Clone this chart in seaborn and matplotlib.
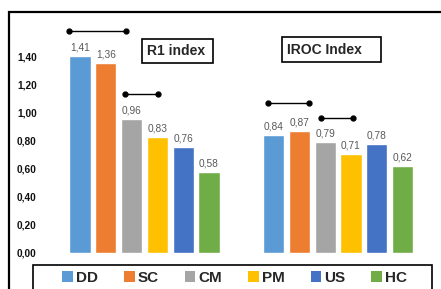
import matplotlib
matplotlib.use("Agg")
import matplotlib.pyplot as plt
import seaborn as sns
import pandas as pd
from matplotlib.patches import Rectangle, Patch

sns.set_style("white")
plt.rcParams['font.family'] = ['Liberation Sans', 'DejaVu Sans']

indices = ["R1 index", "IROC Index"]
groups = ["DD", "SC", "CM", "PM", "US", "HC"]
r1_values = [1.41, 1.36, 0.96, 0.83, 0.76, 0.58]
iroc_values = [0.84, 0.87, 0.79, 0.71, 0.78, 0.62]
colors = ["#5B9BD5", "#ED7D31", "#A5A5A5", "#FFC000", "#4472C4", "#70AD47"]
yticks = [0.0, 0.2, 0.4, 0.6, 0.8, 1.0, 1.2, 1.4]

# significance brackets: (x0, x1, y) in data units
brackets = [(-0.39, -0.096, 1.586), (-0.10, 0.07, 1.136),
            (0.638, 0.85, 1.071), (0.912, 1.078, 0.964)]

rows = []
for g, v in zip(groups, r1_values):
    rows.append({"index": indices[0], "group": g, "value": v})
for g, v in zip(groups, iroc_values):
    rows.append({"index": indices[1], "group": g, "value": v})
df = pd.DataFrame(rows)

W, H = 441, 289
fig = plt.figure(figsize=(W / 100, H / 100), dpi=100)
ax = fig.add_axes([0.1083, 0.1246, 0.8776, 0.8235])

sns.barplot(data=df, x="index", y="value", hue="group", hue_order=groups,
            palette=colors, width=0.8, gap=0.18, ax=ax, legend=False,
            errorbar=None, saturation=1)

for cont in ax.containers:
    labels = [f"{b.get_height():.2f}".replace(".", ",") for b in cont]
    ax.bar_label(cont, labels=labels, padding=2.5, fontsize=7.3, color="#595959")

for x0, x1, y in brackets:
    ax.plot([x0, x1], [y, y], color="black", lw=1.0, marker="o", markersize=3.5)

ax.set_xlim(-0.5, 1.5)
ax.set_ylim(0, 1.7)
ax.set_yticks(yticks)
ax.set_yticklabels([f"{t:.2f}".replace(".", ",") for t in yticks],
                   fontsize=7.3, fontweight="bold", color="#111111")
ax.set_xticks([])
ax.set_xlabel("")
ax.set_ylabel("")
ax.tick_params(axis="y", length=0, pad=8)
for s in ax.spines.values():
    s.set_visible(False)


def px_rect(x0, y0, x1, y1, lw):
    r = Rectangle((x0 / W, 1 - y1 / H), (x1 - x0) / W, (y1 - y0) / H,
                  transform=fig.transFigure, fill=False, edgecolor="black",
                  lw=lw, clip_on=False)
    fig.patches.append(r)


# title boxes
px_rect(142, 39, 213, 63, 1.2)
fig.text(176.5 / W, 1 - 51 / H, "R1 index", ha="center", va="center",
         fontsize=10, fontweight="bold")
px_rect(282, 37, 381, 62, 1.2)
fig.text(287 / W, 1 - 49.5 / H, "IROC Index", ha="left", va="center",
         fontsize=10, fontweight="bold")

# legend
handles = [Patch(facecolor=c, edgecolor="none") for c in colors]
leg = fig.legend(handles, groups, loc="center", bbox_to_anchor=(0.532, 1 - 277.5 / H),
                 ncol=6, frameon=False, prop={"weight": "bold", "size": 11},
                 handlelength=0.7, handleheight=0.7, handletextpad=0.2,
                 columnspacing=1.7, borderpad=0.0)
px_rect(33, 265, 432, 310, 1.2)

# outer frame
px_rect(9, 12, 460, 320, 1.6)

fig.savefig("out.png", dpi=100)
